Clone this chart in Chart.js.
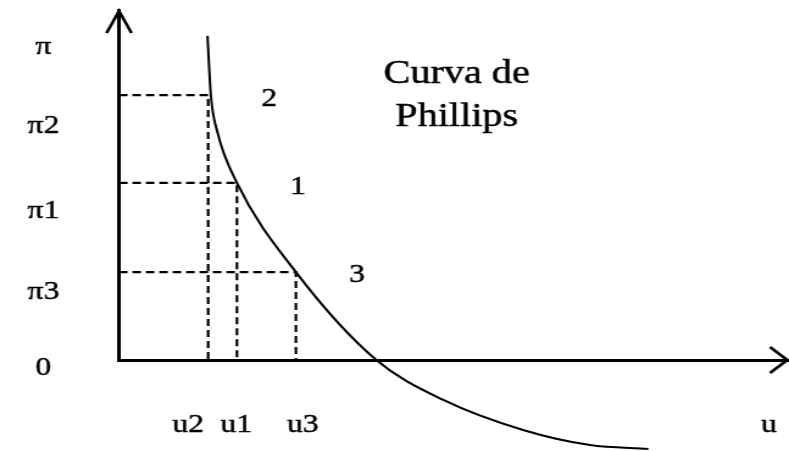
<!DOCTYPE html>
<html lang="es">
<head>
<meta charset="utf-8">
<title>Curva de Phillips</title>
<script src="https://cdn.jsdelivr.net/npm/chart.js@4.4.1/dist/chart.umd.min.js"></script>
<style>
  html, body { margin: 0; padding: 0; background: #fff; overflow: hidden; }
  #wrap { width: 789px; height: 451px; }
  /* el dibujo original está estirado a lo ancho */
  #grafico { display: block; width: 647px; height: 451px; transform: scaleX(1.2195); transform-origin: 0 0; }
</style>
</head>
<body>
<div id="wrap"><canvas id="grafico" width="647" height="451"></canvas></div>
<script>
// ------------------------------------------------------------
// Datos (u = desempleo, pi = inflación)
// ------------------------------------------------------------
const curvaU  = [1.32, 1.37, 1.46, 1.76, 2.64, 3.84, 4.84, 6.03, 7.03, 7.90];
const curvaPi = [9.26, 7.57, 6.57, 5.06, 2.51, 0.00, -1.14, -2.00, -2.43, -2.54];

// puntos 2, 1, 3 sobre la curva
const puntosU  = [1.33, 1.76, 2.64];
const puntosPi = [7.57, 5.06, 2.51];

// rótulos de los ejes
const etiquetasY = ["π", "π2", "π1", "π3", "0"];
const valoresY   = [9.0, 6.72, 4.31, 2.0, -0.17];
const etiquetasX = ["u2", "u1", "u3", "u"];
const valoresX   = [1.03, 1.75, 2.74, 9.70];

// números de los puntos
const numeros   = ["2", "1", "3"];
const numerosU  = [2.24, 2.67, 3.55];
const numerosPi = [7.51, 5.0, 2.46];

// título dentro del gráfico
const titulo   = ["Curva de", "Phillips"];
const tituloU  = 5.04;
const tituloPi = [8.23, 7.0];

// ------------------------------------------------------------
// Helpers
// ------------------------------------------------------------
const FUENTE = '"Liberation Serif", "Times New Roman", serif';

function texto(ctx, s, px, py, size) {
  ctx.font = size + "px " + FUENTE;
  const base = py + size * 0.33;
  ctx.fillText(s, px, base);
  ctx.strokeText(s, px, base);   // un poco más de cuerpo, como el original
}

// flechas de los ejes
const flechas = {
  id: "flechas",
  afterDatasetsDraw(chart) {
    const { ctx, scales: { x, y } } = chart;
    const x0 = x.getPixelForValue(0), y0 = y.getPixelForValue(0);
    const xFin = x.getPixelForValue(x.max), yFin = y.getPixelForValue(y.max);
    ctx.save();
    ctx.strokeStyle = "#000";
    ctx.lineWidth = 2.6;
    ctx.beginPath();
    ctx.moveTo(xFin - 15.6, y0 - 13);
    ctx.lineTo(xFin - 1.5, y0);
    ctx.lineTo(xFin - 15.6, y0 + 13);
    ctx.moveTo(x0 - 10.2, yFin + 23);
    ctx.lineTo(x0, yFin + 1);
    ctx.lineTo(x0 + 10.2, yFin + 23);
    ctx.stroke();
    ctx.restore();
  }
};

// rótulos
const rotulos = {
  id: "rotulos",
  afterDraw(chart) {
    const { ctx, scales: { x, y } } = chart;
    const x0 = x.getPixelForValue(0), y0 = y.getPixelForValue(0);
    ctx.save();
    ctx.fillStyle = "#000";
    ctx.strokeStyle = "#000";
    ctx.lineWidth = 0.45;
    ctx.textAlign = "center";
    ctx.textBaseline = "alphabetic";

    etiquetasY.forEach((s, i) => texto(ctx, s, x0 - 62, y.getPixelForValue(valoresY[i]), 26));
    etiquetasX.forEach((s, i) => texto(ctx, s, x.getPixelForValue(valoresX[i]), y0 + 63, 26));
    numeros.forEach((s, i) =>
      texto(ctx, s, x.getPixelForValue(numerosU[i]), y.getPixelForValue(numerosPi[i]), 26));
    titulo.forEach((s, i) =>
      texto(ctx, s, x.getPixelForValue(tituloU), y.getPixelForValue(tituloPi[i]), 33));

    ctx.restore();
  }
};

// ------------------------------------------------------------
// Datasets
// ------------------------------------------------------------
const curva = {
  data: curvaU.map((u, i) => ({ x: u, y: curvaPi[i] })),
  showLine: true,
  borderColor: "#000",
  borderWidth: 2,
  pointRadius: 0,
  cubicInterpolationMode: "monotone",
  clip: false
};

const guias = puntosU.map((u, i) => ({
  data: [{ x: 0, y: puntosPi[i] }, { x: u, y: puntosPi[i] }, { x: u, y: 0 }],
  showLine: true,
  borderColor: "#000",
  borderWidth: 2.2,
  borderDash: [7, 4],
  pointRadius: 0,
  tension: 0,
  clip: false
}));

const ejeBase = {
  type: "linear",
  min: 0,
  max: 10,
  ticks: { display: false },
  grid: { display: false, drawTicks: false },
  border: { display: true, color: "#000", width: 3 }
};

new Chart(document.getElementById("grafico").getContext("2d"), {
  type: "scatter",
  data: { datasets: [...guias, curva] },
  options: {
    responsive: false,
    animation: false,
    devicePixelRatio: 1,
    layout: { padding: { left: 97.6, right: 0, top: 10, bottom: 91 } },
    plugins: { legend: { display: false }, tooltip: { enabled: false } },
    scales: { x: { ...ejeBase }, y: { ...ejeBase } }
  },
  plugins: [flechas, rotulos]
});
</script>
</body>
</html>
